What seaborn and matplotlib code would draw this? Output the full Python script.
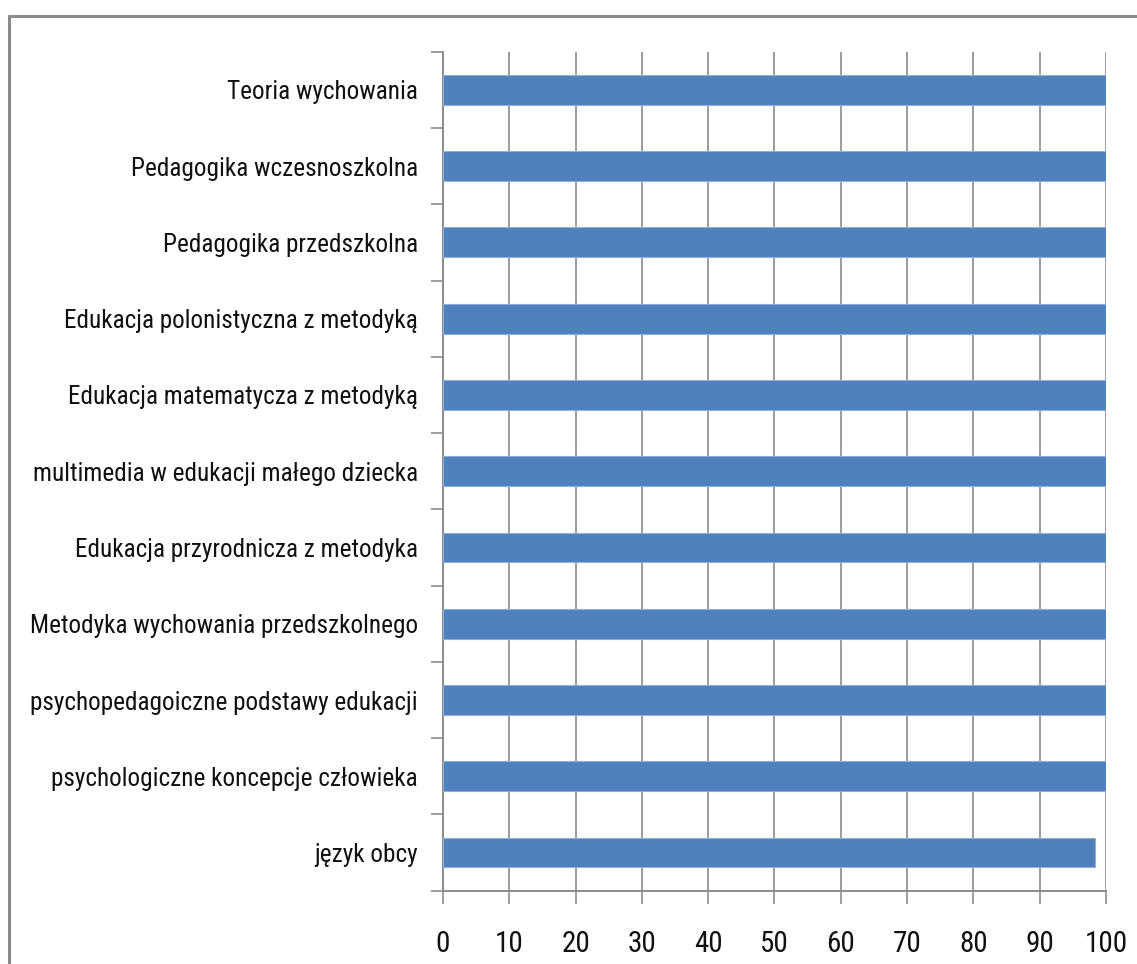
import matplotlib
matplotlib.use("Agg")
import matplotlib.pyplot as plt
from matplotlib.lines import Line2D
from matplotlib.ticker import FixedLocator
import seaborn as sns
import pandas as pd

# Share of positive results per course (%)
courses = [
    "Teoria wychowania",
    "Pedagogika wczesnoszkolna",
    "Pedagogika przedszkolna",
    "Edukacja polonistyczna z metodyką",
    "Edukacja matematycza z metodyką",
    "multimedia w edukacji małego dziecka",
    "Edukacja przyrodnicza z metodyka",
    "Metodyka wychowania przedszkolnego",
    "psychopedagoiczne podstawy edukacji",
    "psychologiczne koncepcje człowieka",
    "język obcy",
]
percent = [100, 100, 100, 100, 100, 100, 100, 100, 100, 100, 98.3]
x_ticks = [0, 10, 20, 30, 40, 50, 60, 70, 80, 90, 100]

df = pd.DataFrame({"course": courses, "percent": percent})

sns.set_theme(style="white")
plt.rcParams["font.family"] = ["Roboto Condensed", "Archivo Narrow", "Noto Sans CJK SC", "DejaVu Sans"]

fig = plt.figure(figsize=(11.37, 9.64), dpi=100)
ax = fig.add_axes([0.3896, 0.076, 0.5831, 0.8704])

sns.barplot(data=df, y="course", x="percent", orient="h", color="#4F81BD",
            width=0.39, edgecolor="#8EB0DA", linewidth=0.8, saturation=1,
            zorder=3, ax=ax)

ax.set_xlim(0, 100)
ax.set_ylim(len(courses) - 0.5, -0.5)
ax.set_xlabel("")
ax.set_ylabel("")

# vertical gridlines
ax.xaxis.set_major_locator(FixedLocator(x_ticks))
ax.set_xticklabels([str(t) for t in x_ticks])
ax.grid(axis="x", color="#9C9C9C", linewidth=1.4, zorder=0)
ax.grid(axis="y", visible=False)

# spines
for side in ("top", "right"):
    ax.spines[side].set_visible(False)
for side in ("left", "bottom"):
    ax.spines[side].set_color("#8C8C8C")
    ax.spines[side].set_linewidth(1.4)

# x ticks
ax.tick_params(axis="x", which="major", direction="out", length=9, width=1.2,
               color="#8C8C8C", labelsize=21, labelcolor="#111111", pad=19,
               bottom=True)

# category labels centred, boundary ticks between categories
ax.tick_params(axis="y", which="major", length=0, labelsize=18.2,
               labelcolor="#111111", pad=18)
ax.yaxis.set_minor_locator(FixedLocator([i - 0.5 for i in range(len(courses) + 1)]))
ax.tick_params(axis="y", which="minor", direction="out", length=9, width=1.2,
               color="#8C8C8C", left=True)

# frame around the chart area
fig.add_artist(Line2D([8.5 / 1137, 8.5 / 1137], [0, 1 - 16 / 964],
                      transform=fig.transFigure, color="#8A8A8A", linewidth=2.2))
fig.add_artist(Line2D([8.5 / 1137, 1.0], [1 - 16 / 964, 1 - 16 / 964],
                      transform=fig.transFigure, color="#8A8A8A", linewidth=2.2))

fig.savefig("out.png", dpi=100, facecolor="white")
